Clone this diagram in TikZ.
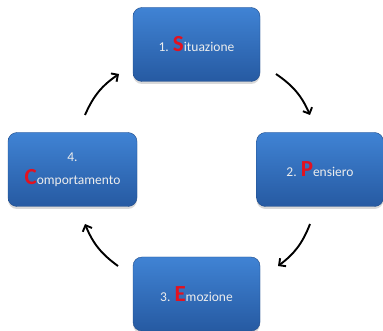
\documentclass[tikz,border=0pt]{standalone}
\usepackage{fontspec}
\setmainfont{Carlito}
\usetikzlibrary{arrows.meta,shadows}

\definecolor{fasetop}{RGB}{64,131,212}
\definecolor{fasebot}{RGB}{38,90,162}
\definecolor{iniziale}{RGB}{226,18,32}

\newcommand{\iniz}[1]{{\fontsize{23}{23}\selectfont\bfseries\color{iniziale}#1}}

\tikzset{
	fase/.style={rounded corners=9pt, minimum width=127pt, minimum height=74pt,
		top color=fasetop, bottom color=fasebot, draw=fasebot!85!black,
		line width=0.4pt, text=white!93!black, align=center,
		font=\fontsize{13.5}{23}\selectfont,
		drop shadow={shadow xshift=0pt, shadow yshift=-2.5pt, opacity=0.3}},
	freccia/.style={-{Straight Barb[length=5pt,width=10pt]}, line width=1.9pt,
		bend left=16}
}

\begin{document}
\begin{tikzpicture}
	[x=1pt, y=-1pt]
	\useasboundingbox (0,0) rectangle (383,331);
	% \draw [help lines, step=20] (0,0) grid (383,331);
	% fasi
	\node[fase] (sit) at (196.5,44.5) {1. \iniz{S}ituazione};
	\node[fase] (pen) at (320,169.5) {2. \iniz{P}ensiero};
	\node[fase] (emo) at (196.5,294) {3. \iniz{E}mozione};
	\node[fase, minimum width=129pt] (com) at (72.5,169.5) {4.\\\iniz{C}omportamento};
	% frecce
	\coordinate (sit-a) at (276,74);
	\coordinate (pen-a) at (310,115);
	\coordinate (pen-b) at (310,224);
	\coordinate (emo-a) at (278,266);
	\coordinate (emo-b) at (118,266);
	\coordinate (com-a) at (85,224);
	\coordinate (com-b) at (85,115);
	\coordinate (sit-b) at (119,74);
	\draw[freccia] (sit-a) to (pen-a);
	\draw[freccia] (pen-b) to (emo-a);
	\draw[freccia] (emo-b) to (com-a);
	\draw[freccia] (com-b) to (sit-b);
\end{tikzpicture}
\end{document}
